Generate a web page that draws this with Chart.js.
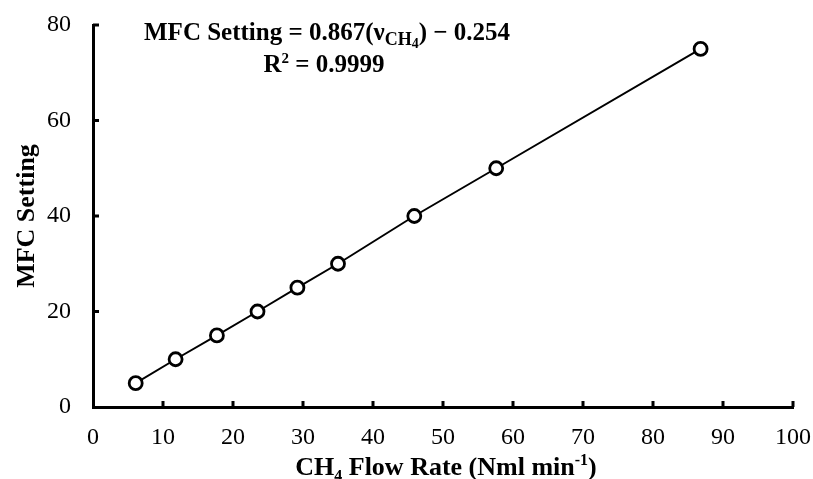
<!DOCTYPE html>
<html>
<head>
<meta charset="utf-8">
<script src="https://cdn.jsdelivr.net/npm/chart.js@4"></script>
<style>
  html, body { margin: 0; background: #fff; }
  #wrap { width: 813px; height: 479px; }
</style>
</head>
<body>
<div id="wrap"><canvas id="chart"></canvas></div>
<script>
// Calibration points
const flowRate = [6.1, 11.8, 17.7, 23.5, 29.2, 35.0, 45.9, 57.6, 86.8];
const mfcSetting = [5, 10, 15, 20, 25, 30, 40, 50, 75];
const xRange = [0, 100];
const yRange = [0, 80];
const xStep = 10;
const yStep = 20;

const SERIF = "'Liberation Serif', 'Times New Roman', serif";

// draw a line of text made of pieces; p.scale shrinks it, p.dy shifts it (fraction of size)
function richText(ctx, parts, cx, y, size) {
  const fontFor = (p) => `bold ${Math.round(size * (p.scale || 1))}px ${SERIF}`;
  let total = 0;
  parts.forEach(p => { ctx.font = fontFor(p); p.w = ctx.measureText(p.t).width; total += p.w; });
  let x = cx - total / 2;
  ctx.textBaseline = 'alphabetic';
  ctx.textAlign = 'left';
  parts.forEach(p => {
    ctx.font = fontFor(p);
    ctx.fillText(p.t, x, y + (p.dy || 0) * size);
    x += p.w;
  });
}

const decorations = {
  id: 'decorations',
  afterDraw(chart) {
    const { ctx, scales: { x, y }, chartArea: a } = chart;
    ctx.save();
    ctx.fillStyle = '#000';
    ctx.strokeStyle = '#000';
    ctx.lineWidth = 3;

    // inward tick marks
    ctx.beginPath();
    for (let v = xRange[0] + xStep; v <= xRange[1]; v += xStep) {
      const px = x.getPixelForValue(v);
      ctx.moveTo(px, a.bottom); ctx.lineTo(px, a.bottom - 6);
    }
    for (let v = yRange[0] + yStep; v <= yRange[1]; v += yStep) {
      const py = y.getPixelForValue(v);
      ctx.moveTo(a.left, py); ctx.lineTo(a.left + 6, py);
    }
    ctx.stroke();

    // x axis title
    richText(ctx, [
      { t: 'CH' }, { t: '4', scale: 0.62, dy: 0.22 }, { t: ' Flow Rate (Nml min' },
      { t: '-1', scale: 0.62, dy: -0.38 }, { t: ')' }
    ], 446, 475, 26);

    // y axis title
    ctx.save();
    ctx.translate(34, 216);
    ctx.rotate(-Math.PI / 2);
    richText(ctx, [{ t: 'MFC Setting' }], 0, 0, 26);
    ctx.restore();

    // regression annotation
    richText(ctx, [
      { t: 'MFC Setting = 0.867(ν' }, { t: 'CH', scale: 0.7, dy: 0.2 }, { t: '4', scale: 0.55, dy: 0.32 },
      { t: ') − 0.254' }
    ], 327, 40, 25);
    richText(ctx, [{ t: 'R' }, { t: '2', scale: 0.6, dy: -0.38 }, { t: ' = 0.9999' }], 324, 72, 25);

    ctx.restore();
  }
};

new Chart(document.getElementById('chart'), {
  type: 'scatter',
  data: {
    datasets: [{
      data: flowRate.map((v, i) => ({ x: v, y: mfcSetting[i] })),
      showLine: true,
      borderColor: '#000',
      borderWidth: 2,
      pointRadius: 6.5,
      pointBorderWidth: 2.8,
      pointBorderColor: '#000',
      pointBackgroundColor: '#fff',
      pointHoverRadius: 6.5,
    }]
  },
  options: {
    responsive: true,
    maintainAspectRatio: false,
    animation: false,
    layout: { padding: { top: 25, right: 20, left: 0, bottom: 0 } },
    plugins: { legend: { display: false }, tooltip: { enabled: false } },
    scales: {
      x: {
        type: 'linear',
        min: xRange[0], max: xRange[1],
        // fixed axis box; label overhang goes into the layout padding
        afterFit: (s) => { s.height = 72; s.paddingLeft = 0; s.paddingRight = 0; },
        grid: { display: false, drawTicks: false },
        border: { display: true, color: '#000', width: 3 },
        ticks: { stepSize: xStep, color: '#000', padding: 16, font: { family: SERIF, size: 24 }, maxRotation: 0 },
      },
      y: {
        type: 'linear',
        min: yRange[0], max: yRange[1],
        afterFit: (s) => { s.width = 93; s.paddingTop = 0; s.paddingBottom = 0; },
        grid: { display: false, drawTicks: false },
        border: { display: true, color: '#000', width: 3 },
        ticks: { stepSize: yStep, color: '#000', padding: 22, font: { family: SERIF, size: 24 } },
      }
    }
  },
  plugins: [decorations]
});
</script>
</body>
</html>
